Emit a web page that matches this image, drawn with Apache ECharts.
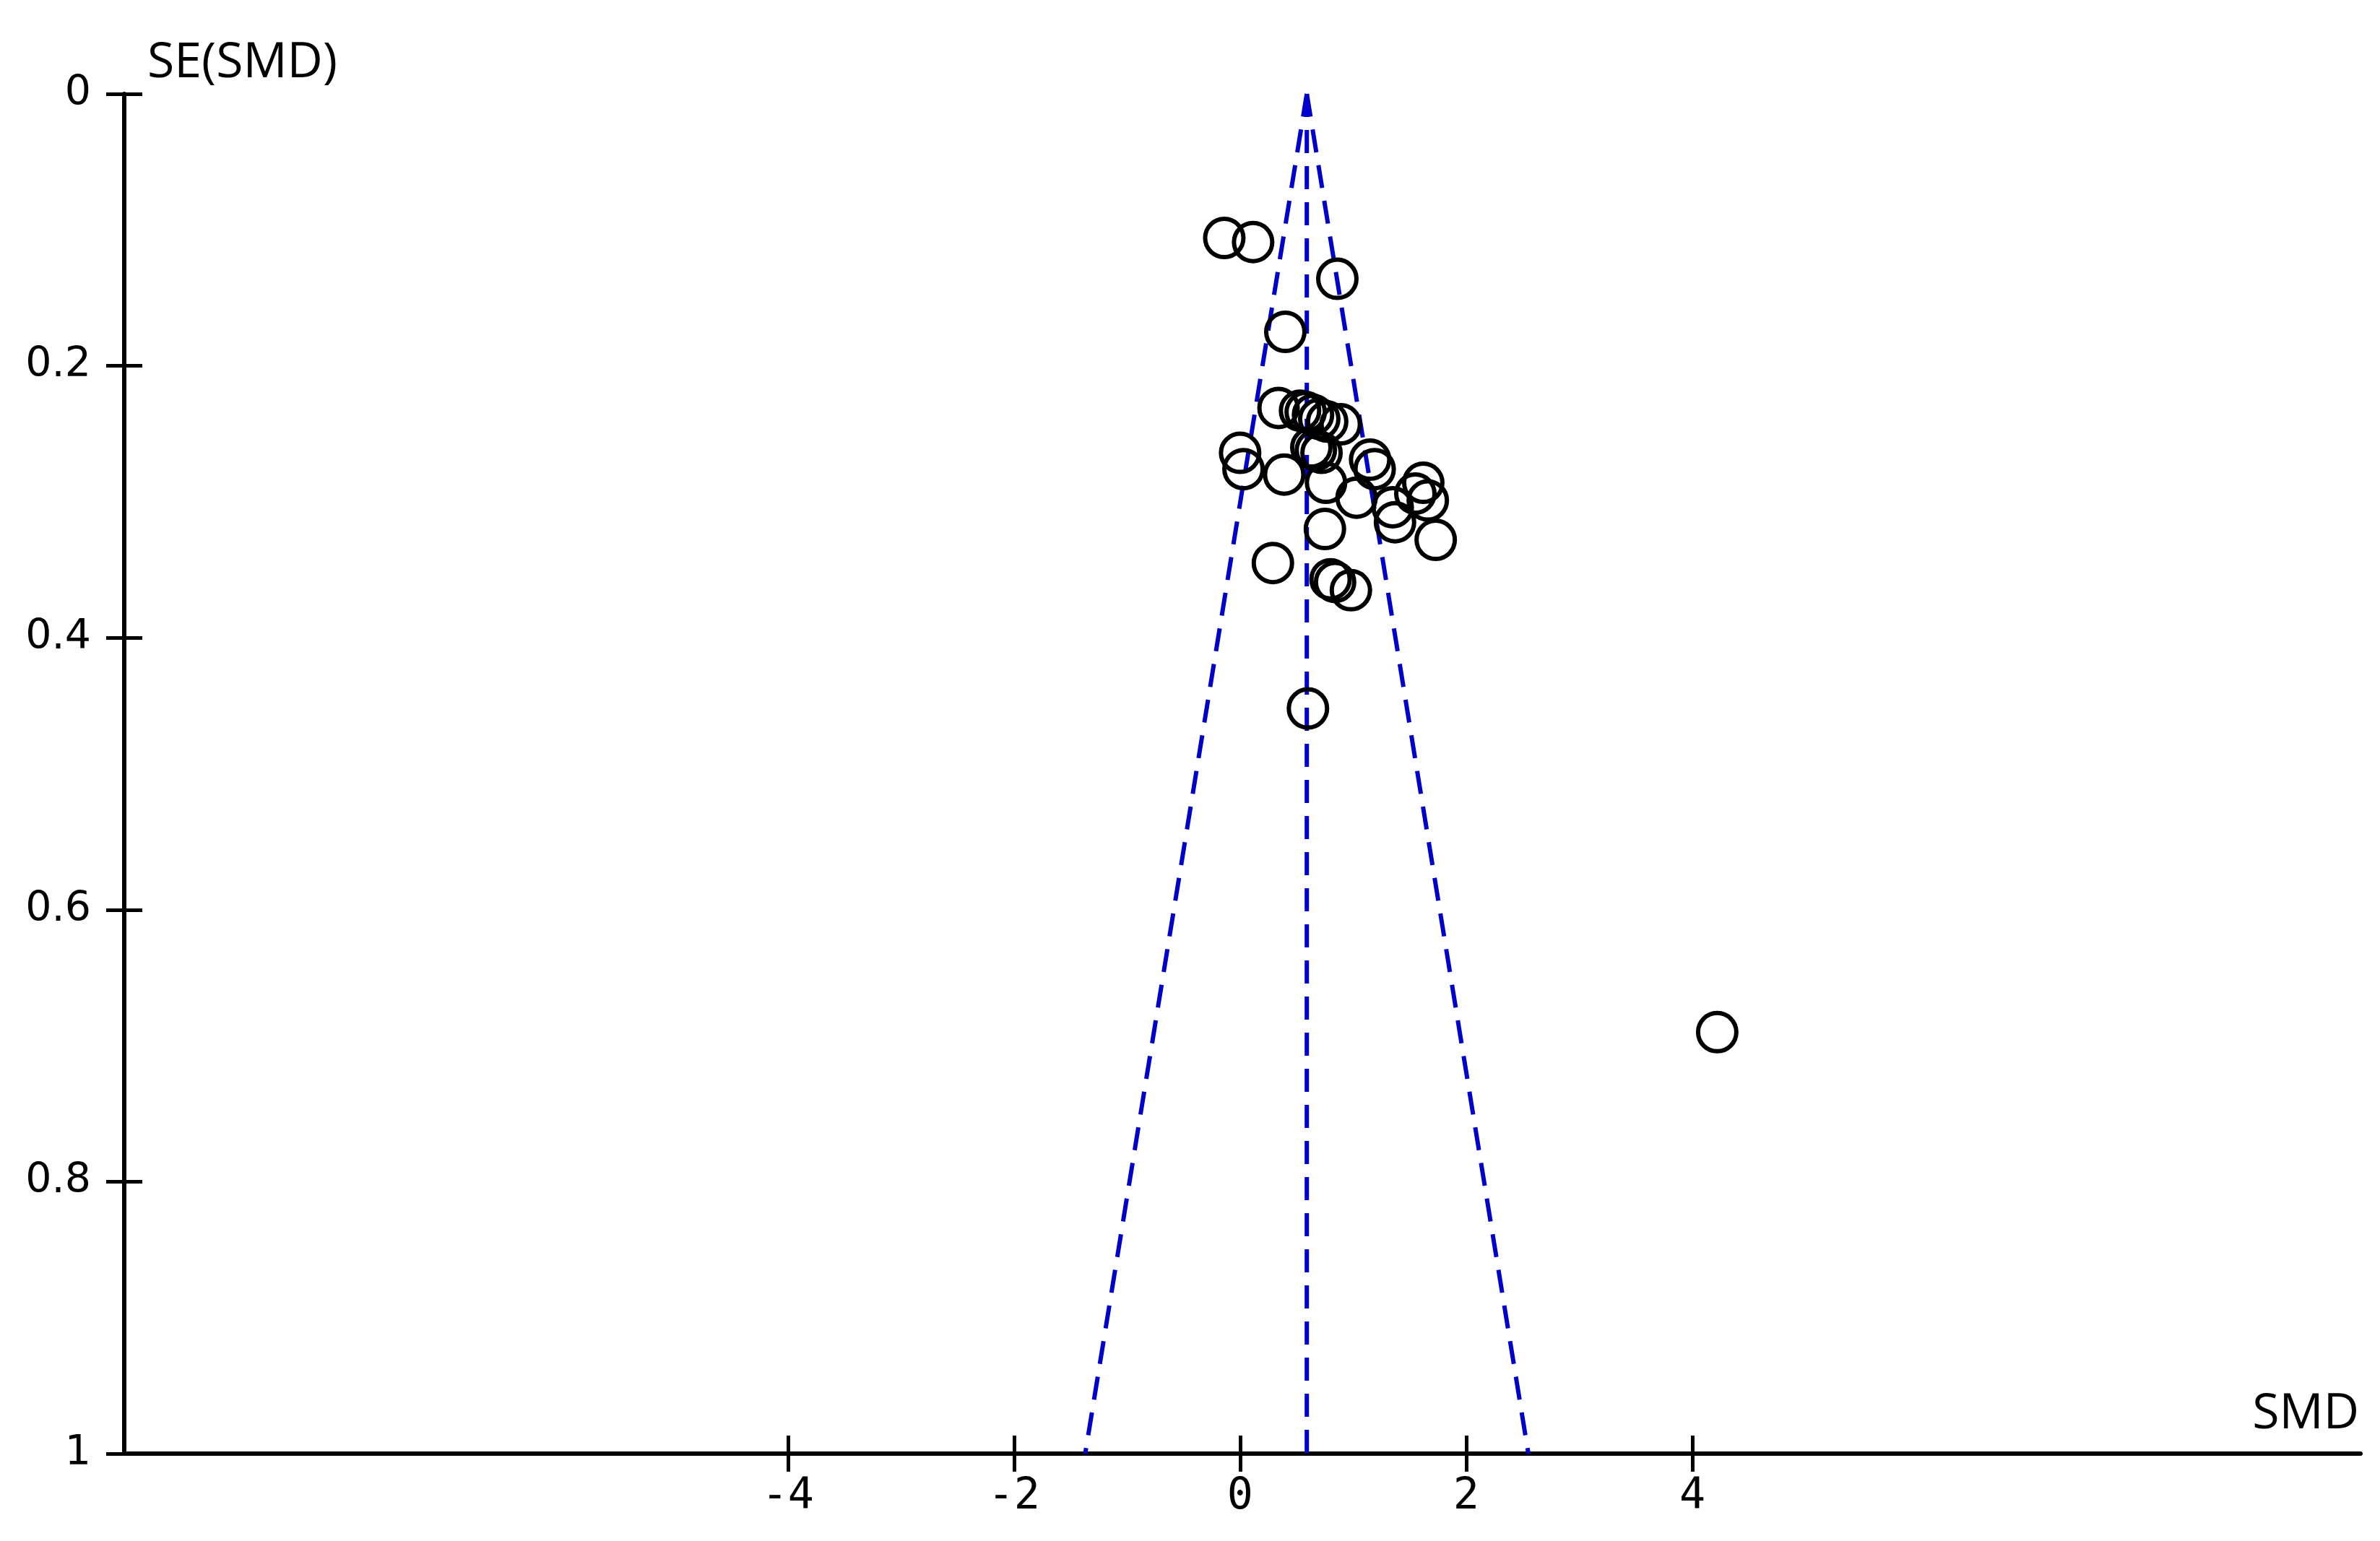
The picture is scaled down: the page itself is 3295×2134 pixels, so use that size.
<!DOCTYPE html>
<html><head><meta charset="utf-8">
<script src="https://cdn.jsdelivr.net/npm/echarts@6/dist/echarts.min.js"></script>
<style>html,body{margin:0;padding:0;background:#fff}#c{width:3295px;height:2134px}</style>
</head><body><div id="c"></div>
<script>
// ---- data ----
const xTickValues = [-4, -2, 0, 2, 4];
const yTickValues = [0, 0.2, 0.4, 0.6, 0.8, 1];
const smd = [-0.14, 0.115, 0.86, 0.40, 0.34, 0.53, 0.58, 0.645, 0.70, 0.77, 0.89, 0.63, 0.67, 0.72,
  0.0, 0.03, 0.39, 0.76, 1.15, 1.19, 1.03, 1.35, 1.37, 1.55, 1.62, 1.66, 1.73, 0.75, 0.29,
  0.80, 0.84, 0.98, 0.60, 4.22];
const seSmd = [0.106, 0.109, 0.136, 0.175, 0.231, 0.233, 0.234, 0.236, 0.239, 0.241, 0.243, 0.260, 0.262, 0.264,
  0.264, 0.276, 0.280, 0.286, 0.269, 0.276, 0.297, 0.304, 0.315, 0.294, 0.286, 0.299, 0.328, 0.320, 0.345,
  0.357, 0.359, 0.365, 0.452, 0.690];
const pooledLine = [[0.59, 0], [0.59, 1]];
const lowerLimit = [[0.59, 0], [-1.37, 1]];
const upperLimit = [[0.59, 0], [2.55, 1]];

const points = smd.map((x, i) => [x, seSmd[i]]);
const nameFont = 'Open Sans';
const dash = { color: '#0000cc', width: 6, type: [32, 18] };

const chart = echarts.init(document.getElementById('c'), null, { renderer: 'canvas' });
chart.setOption({
  backgroundColor: '#fff',
  animation: false,
  grid: { left: 172, right: 27, top: 130, bottom: 121, containLabel: false },
  xAxis: [{
    type: 'value', min: -9.87, max: 9.91, position: 'bottom',
    axisLine: { show: true, onZero: false, lineStyle: { color: '#000', width: 6 } },
    axisTick: { show: true, length: 25, customValues: xTickValues, lineStyle: { color: '#000', width: 5 } },
    axisLabel: { show: true, customValues: xTickValues, fontSize: 60, fontFamily: 'DejaVu Sans Mono', color: '#000', margin: 30 },
    splitLine: { show: false },
    name: 'SMD', nameLocation: 'end', nameGap: -2,
    nameTextStyle: { fontSize: 68, fontFamily: nameFont, color: '#000', align: 'right', verticalAlign: 'bottom', padding: [0, 0, 20, 0] }
  }, {
    type: 'value', min: -9.87, max: 9.91, position: 'bottom',
    axisLine: { show: false, onZero: false },
    axisTick: { show: true, inside: true, length: 25, customValues: xTickValues, lineStyle: { color: '#000', width: 5 } },
    axisLabel: { show: false }, splitLine: { show: false }
  }],
  yAxis: [{
    type: 'value', min: 0, max: 1, interval: 0.2, inverse: true, position: 'left',
    axisLine: { show: true, onZero: false, lineStyle: { color: '#000', width: 6 } },
    axisTick: { show: true, length: 25, lineStyle: { color: '#000', width: 5 } },
    axisLabel: { show: true, fontSize: 57, fontFamily: 'DejaVu Sans', color: '#000', margin: 46 },
    splitLine: { show: false },
    name: 'SE(SMD)', nameLocation: 'start', nameGap: 8,
    nameTextStyle: { fontSize: 68, fontFamily: nameFont, color: '#000', align: 'left', verticalAlign: 'bottom', padding: [0, 0, 0, 32] }
  }, {
    type: 'value', min: 0, max: 1, interval: 0.2, inverse: true, position: 'left',
    axisLine: { show: false, onZero: false },
    axisTick: { show: true, inside: true, length: 25, lineStyle: { color: '#000', width: 5 } },
    axisLabel: { show: false }, splitLine: { show: false }
  }],
  series: [
    { type: 'line', data: pooledLine, symbol: 'none', lineStyle: dash, silent: true, z: 1 },
    { type: 'line', data: lowerLimit, symbol: 'none', lineStyle: dash, silent: true, z: 1 },
    { type: 'line', data: upperLimit, symbol: 'none', lineStyle: dash, silent: true, z: 1 },
    {
      type: 'scatter', data: points, symbol: 'circle', symbolSize: 53, z: 2,
      itemStyle: { color: 'rgba(0,0,0,0)', borderColor: '#000', borderWidth: 6, opacity: 1 }
    }
  ]
});
</script>
</body></html>
